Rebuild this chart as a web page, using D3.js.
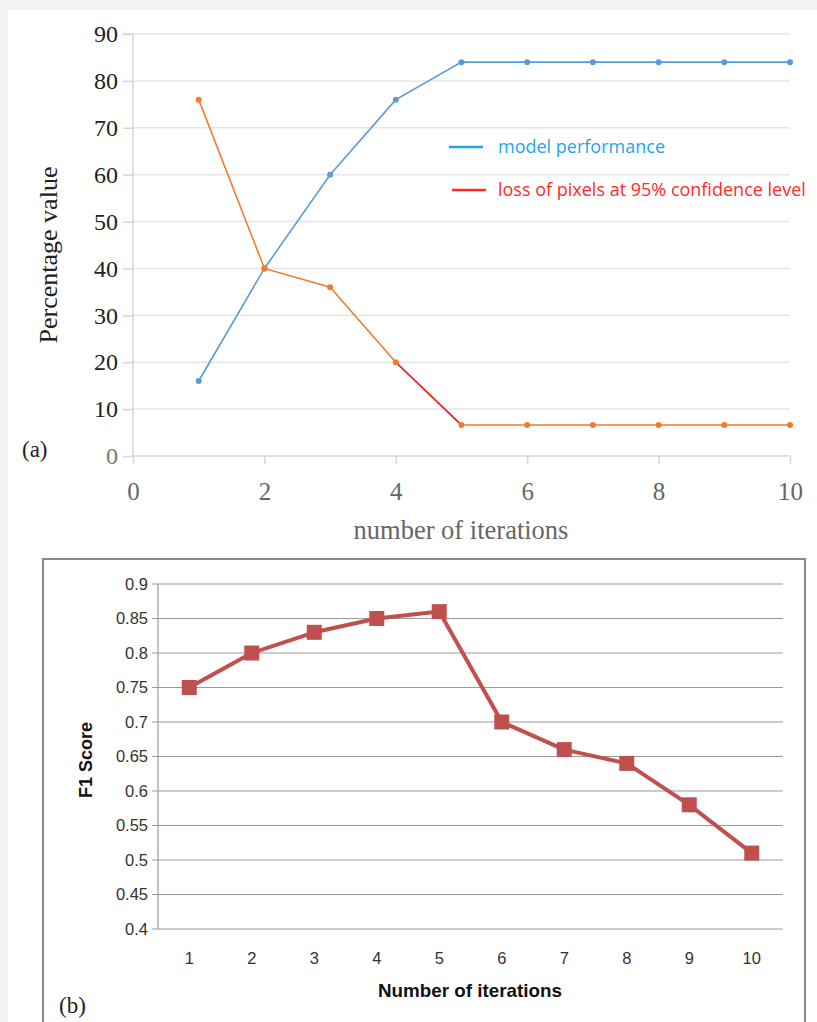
<!DOCTYPE html>
<html>
<head>
<meta charset="utf-8">
<script src="https://cdn.jsdelivr.net/npm/d3@7"></script>
<style>
  html, body { margin: 0; padding: 0; background: #f3f3f3; }
  svg { display: block; }
</style>
</head>
<body>
<svg id="chart" width="817" height="1022"></svg>
<script>
// Panel (a): model performance and pixel loss per iteration
const iterationsA = [1, 2, 3, 4, 5, 6, 7, 8, 9, 10];
const modelPerformance = [16, 40, 60, 76, 84, 84, 84, 84, 84, 84];
const pixelLoss = [76, 40, 36, 20, 6.6, 6.6, 6.6, 6.6, 6.6, 6.6];
const yTicksA = [0, 10, 20, 30, 40, 50, 60, 70, 80, 90];
const xTicksA = [0, 2, 4, 6, 8, 10];
const legendA = ["model performance", "loss of pixels at 95% confidence level"];

// Panel (b): F1 score per iteration
const iterationsB = ["1", "2", "3", "4", "5", "6", "7", "8", "9", "10"];
const f1Scores = [0.75, 0.80, 0.83, 0.85, 0.86, 0.70, 0.66, 0.64, 0.58, 0.51];
const yTicksB = [0.4, 0.45, 0.5, 0.55, 0.6, 0.65, 0.7, 0.75, 0.8, 0.85, 0.9];

const svg = d3.select("#chart");
const serif = "'Liberation Serif', 'Times New Roman', serif";
const sans = "'Open Sans', 'DejaVu Sans', sans-serif";
const narrow = "'Liberation Sans Narrow', 'Liberation Sans', Arial, sans-serif";

// white backgrounds
svg.append("rect").attr("x", 8).attr("y", 10).attr("width", 809).attr("height", 1012).attr("fill", "#fff");

// ---------- Panel (a) ----------
const xA = d3.scaleLinear().domain([0, 10]).range([133, 790]);
const yA = d3.scaleLinear().domain([0, 90]).range([456, 34]);
const gA = svg.append("g");

gA.append("g").selectAll("line").data(yTicksA.filter(d => d > 0)).join("line")
  .attr("x1", xA(0)).attr("x2", xA(10))
  .attr("y1", d => yA(d)).attr("y2", d => yA(d))
  .attr("stroke", "#e6e6e6").attr("stroke-width", 1.5);

const axisYA = gA.append("g").attr("transform", `translate(${xA(0)},0)`)
  .call(d3.axisLeft(yA).tickValues(yTicksA).tickSize(10).tickPadding(5).tickFormat(d3.format("d")));
axisYA.select(".domain").attr("stroke", "#d6d6d6").attr("stroke-width", 1.5).attr("d", `M-10,${yA(90)}H0V${yA(0)}`);
axisYA.selectAll(".tick line").attr("stroke", "#d6d6d6").attr("stroke-width", 1.5);
axisYA.selectAll(".tick text").attr("font-family", serif).attr("font-size", 24)
  .attr("fill", d => d === 0 ? "#777" : "#222");

const axisXA = gA.append("g").attr("transform", `translate(0,${yA(0)})`)
  .call(d3.axisBottom(xA).tickValues(xTicksA).tickSize(8).tickPadding(18));
axisXA.select(".domain").attr("stroke", "#d6d6d6").attr("stroke-width", 1.5).attr("d", `M${xA(0)},0H${xA(10)}`);
axisXA.selectAll(".tick line").attr("stroke", "#d6d6d6").attr("stroke-width", 1.5);
axisXA.selectAll(".tick text").attr("font-family", serif).attr("font-size", 25).attr("fill", "#666");

gA.append("text").attr("x", 461).attr("y", 539).attr("text-anchor", "middle")
  .attr("font-family", serif).attr("font-size", 26.5).attr("fill", "#666").text("number of iterations");
gA.append("text").attr("transform", `translate(57,${(yA(0) + yA(90)) / 2 + 10}) rotate(-90)`)
  .attr("text-anchor", "middle").attr("font-family", serif).attr("font-size", 26).attr("fill", "#222")
  .text("Percentage value");
gA.append("text").attr("x", 22).attr("y", 457).attr("font-family", serif).attr("font-size", 23)
  .attr("fill", "#222").text("(a)");

const lineA = d3.line().x((d, i) => xA(iterationsA[i])).y(d => yA(d));
const blue = "#5b9bd5", orange = "#ed7d31", red = "#f0202c";

gA.append("path").datum(modelPerformance).attr("d", lineA)
  .attr("fill", "none").attr("stroke", blue).attr("stroke-width", 1.6);
gA.append("path").datum(pixelLoss).attr("d", lineA)
  .attr("fill", "none").attr("stroke", orange).attr("stroke-width", 1.6);
// highlighted segment of the loss curve between iterations 4 and 5
gA.append("path").datum(pixelLoss.slice(3, 5))
  .attr("d", d3.line().x((d, i) => xA(iterationsA[i + 3])).y(d => yA(d)))
  .attr("fill", "none").attr("stroke", red).attr("stroke-width", 1.6);

gA.append("g").selectAll("circle").data(modelPerformance).join("circle")
  .attr("cx", (d, i) => xA(iterationsA[i])).attr("cy", d => yA(d)).attr("r", 3).attr("fill", blue);
gA.append("g").selectAll("circle").data(pixelLoss).join("circle")
  .attr("cx", (d, i) => xA(iterationsA[i])).attr("cy", d => yA(d)).attr("r", 3).attr("fill", orange);

// legend
const legColors = ["#1ea5ec", "#ff2b2b"];
const legY = [147, 190];
legendA.forEach((t, i) => {
  gA.append("line").attr("x1", 449 + i * 3).attr("x2", 483 + i * 3).attr("y1", legY[i]).attr("y2", legY[i])
    .attr("stroke", legColors[i]).attr("stroke-width", 2.5);
  gA.append("text").attr("x", 498).attr("y", legY[i] + 6).attr("font-family", sans).attr("font-size", 18)
    .attr("fill", legColors[i]).text(t);
});

// ---------- Panel (b) ----------
svg.append("rect").attr("x", 43).attr("y", 559).attr("width", 762).attr("height", 480)
  .attr("fill", "#fff").attr("stroke", "#8a8a8a").attr("stroke-width", 2);

const xB = d3.scaleBand().domain(iterationsB).range([158, 783]);
const yB = d3.scaleLinear().domain([0.4, 0.9]).range([929, 584]);
const gB = svg.append("g");

gB.append("g").selectAll("line").data(yTicksB).join("line")
  .attr("x1", 152).attr("x2", 783)
  .attr("y1", d => yB(d)).attr("y2", d => yB(d))
  .attr("stroke", "#9a9a9a").attr("stroke-width", 1.2);
gB.append("line").attr("x1", 158).attr("x2", 158).attr("y1", yB(0.9)).attr("y2", yB(0.4))
  .attr("stroke", "#9a9a9a").attr("stroke-width", 1.2);

gB.append("g").selectAll("text").data(yTicksB).join("text")
  .attr("x", 148).attr("y", d => yB(d)).attr("dy", "0.35em").attr("text-anchor", "end")
  .attr("font-family", narrow).attr("font-size", 16.5).attr("fill", "#333")
  .text(d => d3.format("")(+d.toFixed(2)));
gB.append("g").selectAll("text").data(iterationsB).join("text")
  .attr("x", d => xB(d) + xB.bandwidth() / 2).attr("y", 964).attr("text-anchor", "middle")
  .attr("font-family", narrow).attr("font-size", 16.5).attr("fill", "#333").text(d => d);

gB.append("text").attr("x", 470).attr("y", 997).attr("text-anchor", "middle")
  .attr("font-family", narrow).attr("font-weight", "bold").attr("font-size", 18.5).attr("fill", "#111")
  .attr("textLength", 184).attr("lengthAdjust", "spacingAndGlyphs")
  .text("Number of iterations");
gB.append("text").attr("transform", `translate(92,760) rotate(-90)`).attr("text-anchor", "middle")
  .attr("font-family", narrow).attr("font-weight", "bold").attr("font-size", 18).attr("fill", "#111")
  .text("F1 Score");
gB.append("text").attr("x", 59).attr("y", 1013).attr("font-family", serif).attr("font-size", 23)
  .attr("fill", "#222").text("(b)");

const f1Color = "#c0504d";
gB.append("path").datum(f1Scores)
  .attr("d", d3.line().x((d, i) => xB(iterationsB[i]) + xB.bandwidth() / 2).y(d => yB(d)))
  .attr("fill", "none").attr("stroke", f1Color).attr("stroke-width", 4).attr("stroke-linejoin", "round");
gB.append("g").selectAll("rect").data(f1Scores).join("rect")
  .attr("x", (d, i) => xB(iterationsB[i]) + xB.bandwidth() / 2 - 7.5)
  .attr("y", d => yB(d) - 7.5).attr("width", 15).attr("height", 15).attr("fill", f1Color);
</script>
</body>
</html>
